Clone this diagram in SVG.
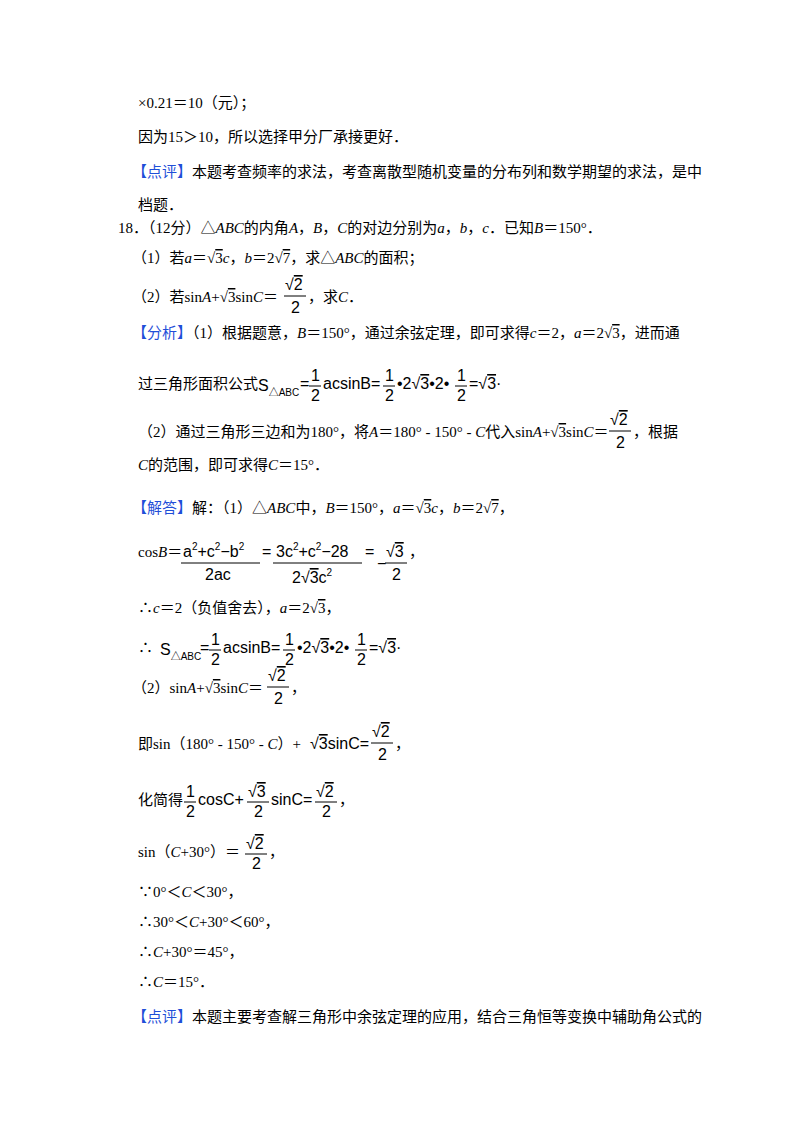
<svg xmlns="http://www.w3.org/2000/svg" width="800" height="1132" viewBox="0 0 800 1132">
<style>
text{font-family:"Liberation Serif","Noto Sans CJK SC",serif;font-size:15px;fill:#000}
.m{font-family:"Liberation Sans","Noto Sans CJK SC",sans-serif;font-size:16px}
.s{font-size:10px}
.b{fill:#1f4fd8}
.o{text-decoration:overline}
.i{font-style:italic}
.f{stroke:#000;stroke-width:1}
</style>
<rect width="800" height="1132" fill="#fff"/>
<g id="top">
<text x="138" y="108">×0.21＝10（元）；</text>
<text x="138" y="142">因为15＞10，所以选择甲分厂承接更好．</text>
<text x="132" y="177"><tspan class="b">【点评】</tspan>本题考查频率的求法，考查离散型随机变量的分布列和数学期望的求法，是中</text>
<text x="138" y="210">档题．</text>
</g>
<g id="q18">
<text x="118" y="233">18．（12分）△<tspan class="i">ABC</tspan>的内角<tspan class="i">A</tspan>，<tspan class="i">B</tspan>，<tspan class="i">C</tspan>的对边分别为<tspan class="i">a</tspan>，<tspan class="i">b</tspan>，<tspan class="i">c</tspan>．已知<tspan class="i">B</tspan>＝150°．</text>
<text x="132" y="263">（1）若<tspan class="i">a</tspan>＝√<tspan class="o">3</tspan><tspan class="i">c</tspan>，<tspan class="i">b</tspan>＝2√<tspan class="o">7</tspan>，求△<tspan class="i">ABC</tspan>的面积；</text>
<text x="132" y="302">（2）若sin<tspan class="i">A</tspan>+√<tspan class="o">3</tspan>sin<tspan class="i">C</tspan>＝</text>
<text class="m" x="285" y="290">√<tspan class="o">2</tspan></text>
<line class="f" x1="284" y1="296" x2="306" y2="296"/>
<text class="m" x="291" y="313">2</text>
<text x="308" y="302">，求<tspan class="i">C</tspan>．</text>
</g>
<g id="analysis">
<text x="132" y="338"><tspan class="b">【分析】</tspan>（1）根据题意，<tspan class="i">B</tspan>＝150°，通过余弦定理，即可求得<tspan class="i">c</tspan>＝2，<tspan class="i">a</tspan>＝2√<tspan class="o">3</tspan>，进而通</text>
<text x="138" y="389">过三角形面积公式</text>
<text class="m" x="258" y="391">S<tspan class="s" dy="5">△ABC</tspan></text>
<text class="m" x="300" y="389">=</text>
<text class="m" x="311" y="381">1</text><line class="f" x1="309" y1="386" x2="321" y2="386"/><text class="m" x="311" y="401">2</text>
<text class="m" x="323" y="389">acsinB=</text>
<text class="m" x="385" y="381">1</text><line class="f" x1="383" y1="386" x2="395" y2="386"/><text class="m" x="385" y="401">2</text>
<text class="m" x="397" y="389">•2√<tspan class="o">3</tspan>•2•</text>
<text class="m" x="457" y="381">1</text><line class="f" x1="455" y1="386" x2="467" y2="386"/><text class="m" x="457" y="401">2</text>
<text class="m" x="469" y="389">=√<tspan class="o">3</tspan>·</text>
<text x="138" y="437">（2）通过三角形三边和为180°，将<tspan class="i">A</tspan>＝180° - 150° - <tspan class="i">C</tspan>代入sin<tspan class="i">A</tspan>+√<tspan class="o">3</tspan>sin<tspan class="i">C</tspan>＝</text>
<text class="m" x="610" y="425">√<tspan class="o">2</tspan></text>
<line class="f" x1="609" y1="431" x2="631" y2="431"/>
<text class="m" x="616" y="448">2</text>
<text x="633" y="437">，根据</text>
<text x="138" y="470"><tspan class="i">C</tspan>的范围，即可求得<tspan class="i">C</tspan>＝15°．</text>
</g>
<g id="solution">
<text x="132" y="513"><tspan class="b">【解答】</tspan>解：（1）△<tspan class="i">ABC</tspan>中，<tspan class="i">B</tspan>＝150°，<tspan class="i">a</tspan>＝√<tspan class="o">3</tspan><tspan class="i">c</tspan>，<tspan class="i">b</tspan>＝2√<tspan class="o">7</tspan>，</text>
<text x="138" y="557">cos<tspan class="i">B</tspan>＝</text>
<text class="m" x="183" y="557">a<tspan class="s" dy="-7">2</tspan><tspan dy="7">+c</tspan><tspan class="s" dy="-7">2</tspan><tspan dy="7">−b</tspan><tspan class="s" dy="-7">2</tspan></text>
<line class="f" x1="181" y1="563" x2="260" y2="563"/>
<text class="m" x="205" y="580">2ac</text>
<text class="m" x="262" y="557">=</text>
<text class="m" x="276" y="557">3c<tspan class="s" dy="-7">2</tspan><tspan dy="7">+c</tspan><tspan class="s" dy="-7">2</tspan><tspan dy="7">−28</tspan></text>
<line class="f" x1="273" y1="563" x2="362" y2="563"/>
<text class="m" x="292" y="583">2√<tspan class="o">3</tspan>c<tspan class="s" dy="-7">2</tspan></text>
<text class="m" x="365" y="557">=</text>
<text class="m" x="377" y="569">−</text>
<text class="m" x="386" y="557">√<tspan class="o">3</tspan></text>
<line class="f" x1="385" y1="563" x2="407" y2="563"/>
<text class="m" x="392" y="580">2</text>
<text x="409" y="557">，</text>
<text x="138" y="613">∴<tspan class="i">c</tspan>＝2（负值舍去），<tspan class="i">a</tspan>＝2√<tspan class="o">3</tspan>，</text>
<text x="138" y="653">∴</text>
<text class="m" x="160" y="655">S<tspan class="s" dy="5">△ABC</tspan></text>
<text class="m" x="200" y="653">=</text>
<text class="m" x="211" y="645">1</text><line class="f" x1="209" y1="650" x2="221" y2="650"/><text class="m" x="211" y="665">2</text>
<text class="m" x="223" y="653">acsinB=</text>
<text class="m" x="285" y="645">1</text><line class="f" x1="283" y1="650" x2="295" y2="650"/><text class="m" x="285" y="665">2</text>
<text class="m" x="297" y="653">•2√<tspan class="o">3</tspan>•2•</text>
<text class="m" x="357" y="645">1</text><line class="f" x1="355" y1="650" x2="367" y2="650"/><text class="m" x="357" y="665">2</text>
<text class="m" x="369" y="653">=√<tspan class="o">3</tspan>·</text>
<text x="132" y="693">（2）sin<tspan class="i">A</tspan>+√<tspan class="o">3</tspan>sin<tspan class="i">C</tspan>＝</text>
<text class="m" x="268" y="681">√<tspan class="o">2</tspan></text>
<line class="f" x1="267" y1="687" x2="289" y2="687"/>
<text class="m" x="274" y="704">2</text>
<text x="291" y="693">，</text>
<text x="138" y="749">即sin（180° - 150° - <tspan class="i">C</tspan>）+</text>
<text class="m" x="310" y="749">√<tspan class="o">3</tspan>sinC=</text>
<text class="m" x="372" y="737">√<tspan class="o">2</tspan></text>
<line class="f" x1="371" y1="743" x2="393" y2="743"/>
<text class="m" x="378" y="760">2</text>
<text x="395" y="749">，</text>
<text x="138" y="805">化简得</text>
<text class="m" x="186" y="797">1</text><line class="f" x1="184" y1="802" x2="196" y2="802"/><text class="m" x="186" y="817">2</text>
<text class="m" x="198" y="805">cosC+</text>
<text class="m" x="248" y="797">√<tspan class="o">3</tspan></text>
<line class="f" x1="247" y1="802" x2="269" y2="802"/>
<text class="m" x="254" y="817">2</text>
<text class="m" x="271" y="805">sinC=</text>
<text class="m" x="316" y="797">√<tspan class="o">2</tspan></text>
<line class="f" x1="315" y1="802" x2="337" y2="802"/>
<text class="m" x="322" y="817">2</text>
<text x="339" y="805">，</text>
<text x="138" y="857">sin（<tspan class="i">C</tspan>+30°）＝</text>
<text class="m" x="246" y="849">√<tspan class="o">2</tspan></text>
<line class="f" x1="245" y1="854" x2="267" y2="854"/>
<text class="m" x="252" y="869">2</text>
<text x="269" y="857">，</text>
<text x="138" y="897">∵0°＜<tspan class="i">C</tspan>＜30°，</text>
<text x="138" y="927">∴30°＜<tspan class="i">C</tspan>+30°＜60°，</text>
<text x="138" y="957">∴<tspan class="i">C</tspan>+30°＝45°，</text>
<text x="138" y="987">∴<tspan class="i">C</tspan>＝15°．</text>
<text x="132" y="1022"><tspan class="b">【点评】</tspan>本题主要考查解三角形中余弦定理的应用，结合三角恒等变换中辅助角公式的</text>
</g>
</svg>
